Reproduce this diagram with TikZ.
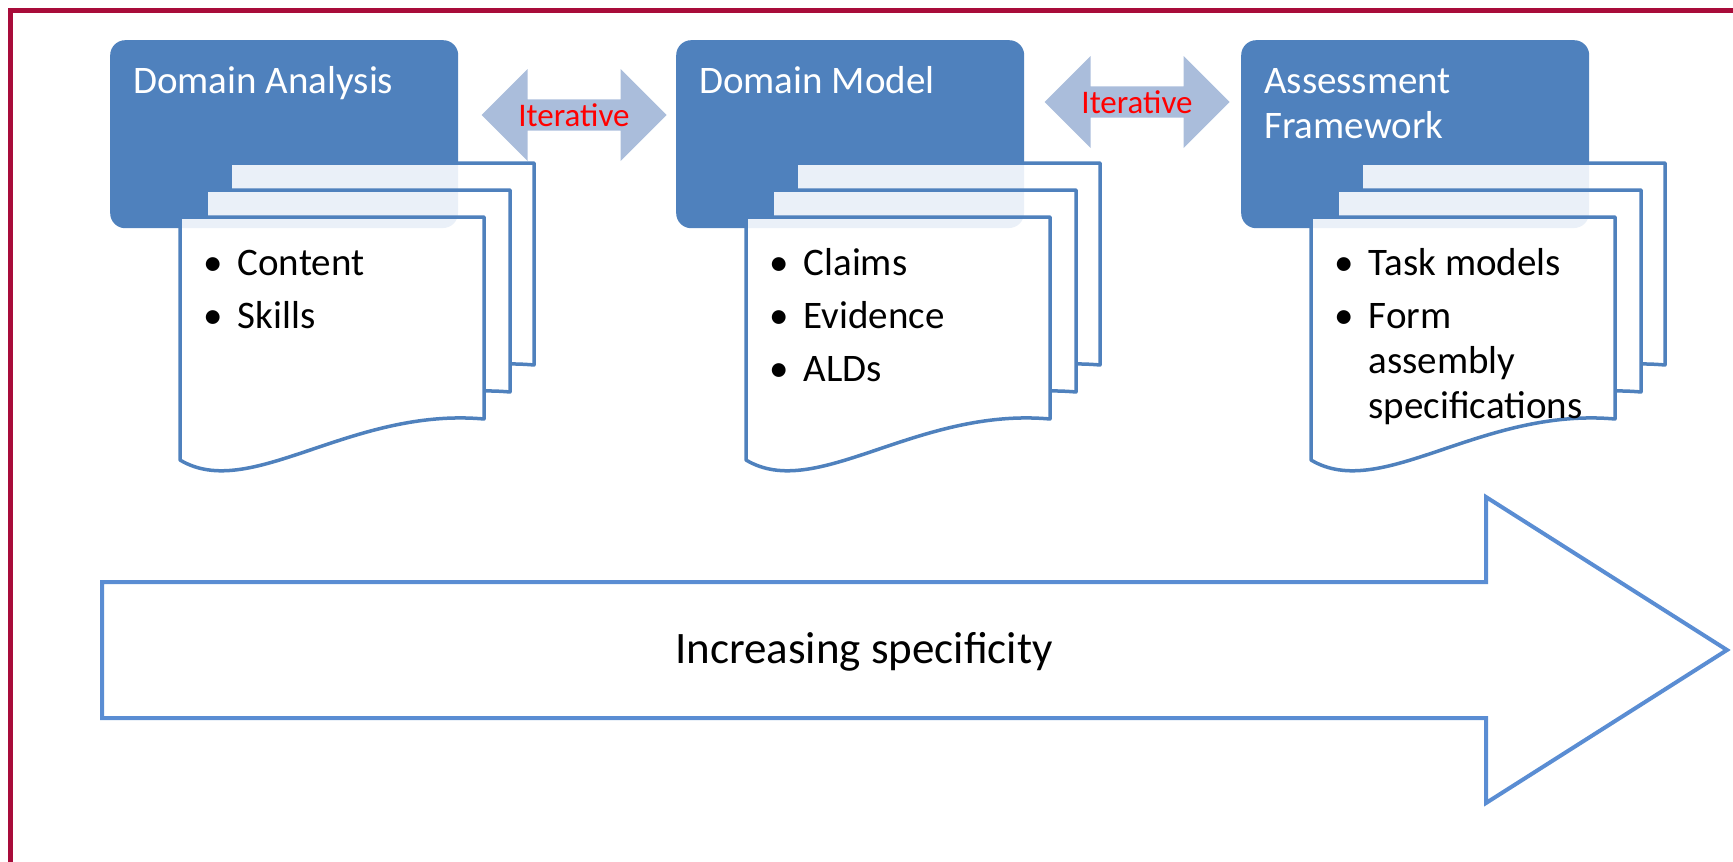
\documentclass[tikz,border=0pt]{standalone}
\usepackage{fontspec}
\setmainfont{Carlito}
\usetikzlibrary{shapes.arrows}
\definecolor{hdrblue}{HTML}{4F81BD}
\definecolor{lineblue}{HTML}{4F81BD}
\definecolor{pagetint}{HTML}{EAF0F8}
\definecolor{itercol}{HTML}{AABDDB}
\definecolor{bigblue}{HTML}{5A8DD3}
\definecolor{framered}{HTML}{A80C3A}
\tikzstyle{header}=[rectangle,rounded corners=15pt,fill=hdrblue,minimum width=348pt,minimum height=188pt,anchor=north west,inner sep=0pt]
\tikzstyle{title}=[text=white,anchor=base west,inner sep=0pt,align=left,font=\fontsize{39}{45}\selectfont]
\tikzstyle{page}=[draw=lineblue,line width=3.5pt,line join=round]
\tikzstyle{items}=[anchor=base west,inner sep=0pt,font=\fontsize{39}{45}\selectfont]
\tikzstyle{iter}=[double arrow,double arrow head extend=23pt,minimum height=185pt,minimum width=92pt,fill=itercol,text=red,inner sep=0pt,font=\fontsize{33}{38}\selectfont]
\newcommand{\pagepath}{(0,0) -- (304,0) -- (304,202) .. controls (170,190) and (70,285) .. (0,243) -- cycle}
% #1 box left, #2 page offset from box left, #3 page top
\newcommand{\docpage}[3]{%
  \begin{scope}[shift={(#1+#2,#3)}]
    \fill[white] \pagepath;
    \begin{scope}
      \clip \pagepath;
      \fill[pagetint,rounded corners=15pt] (-#2,40-#3) rectangle ++(348,188);
    \end{scope}
    \draw[page] \pagepath;
  \end{scope}}
\newcommand{\pagestack}[1]{%
  \docpage{#1}{120}{163}\docpage{#1}{96}{190}\docpage{#1}{70}{217}}

\begin{document}
\begin{tikzpicture}[x=1pt,y=-1pt]
\useasboundingbox (0,0) rectangle (1733,862);
\draw[framered,line width=5pt] (10,10) rectangle (1780,900);

\node[header] (da) at (110,40) {};
\node[header] (dm) at (676,40) {};
\node[header] (af) at (1241,40) {};

\pagestack{110}
\pagestack{676}
\pagestack{1241}

\node[title] (daT) at (133,93) {Domain Analysis};
\node[title] (dmT) at (699,93) {Domain Model};
\node[title] (afT) at (1264,138) {Assessment\\Framework};

\node[items] (daL) at (203,275) {\begin{tabular}[t]{@{}l@{\hspace{15pt}}l@{}}\textbullet & Content\\[8pt] \textbullet & Skills\end{tabular}};
\node[items] (dmL) at (769,275) {\begin{tabular}[t]{@{}l@{\hspace{15pt}}l@{}}\textbullet & Claims\\[8pt] \textbullet & Evidence\\[8pt] \textbullet & ALDs\end{tabular}};
\node[items] (afL) at (1334,275) {\begin{tabular}[t]{@{}l@{\hspace{15pt}}l@{}}\textbullet & Task models\\[8pt] \textbullet & Form\\ & assembly\\ & specifications\end{tabular}};

\node[iter] (it1) at (574,115) {Iterative};
\node[iter] (it2) at (1137,102) {Iterative};

\draw[bigblue,line width=4pt] (102,582) -- (1486,582) -- (1486,497) -- (1727,650) -- (1486,803) -- (1486,718) -- (102,718) -- cycle;
\node[font=\fontsize{45}{52}\selectfont] (spec) at (864,652) {Increasing specificity};
\end{tikzpicture}
\end{document}
